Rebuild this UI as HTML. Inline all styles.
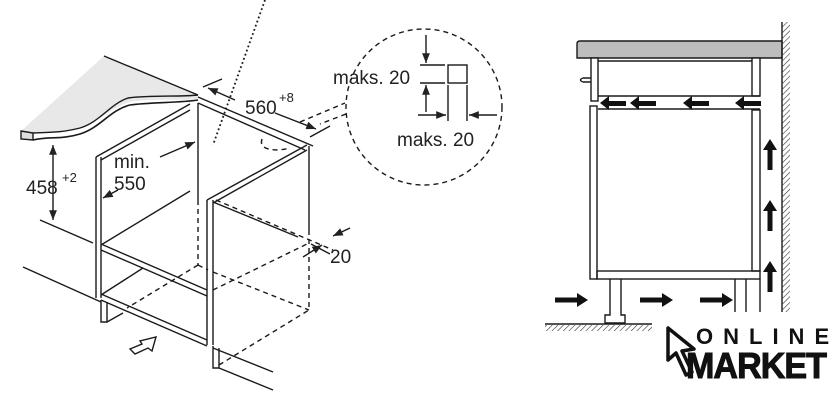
<!DOCTYPE html>
<html><head><meta charset="utf-8"><style>
html,body{margin:0;padding:0;background:#fff;}
svg{display:block;}
text{font-family:"Liberation Sans",sans-serif;fill:#222;}
</style></head><body>
<svg width="840" height="411" viewBox="0 0 840 411" xmlns="http://www.w3.org/2000/svg">
<defs>
<pattern id="hv" width="4" height="4" patternUnits="userSpaceOnUse" patternTransform="rotate(45)">
<line x1="0" y1="0" x2="0" y2="4" stroke="#333" stroke-width="1.2"/></pattern>
<marker id="ar" viewBox="0 0 10 10" refX="10" refY="5" markerWidth="7" markerHeight="7" orient="auto-start-reverse"><path d="M0,1 L10,5 L0,9 z" fill="#222"/></marker>
</defs>
<g stroke="#1a1a1a" fill="none" stroke-width="1.4">
<path d="M104,56 L198,95 L198,99 C185,101 150,98 130,102 C110,108 95,125 70,131 C55,134 45,133 33,133 L21,131 Z" fill="#e8e8e8" stroke="none"/>
<line x1="104" y1="56" x2="198" y2="95"/>
<path d="M21,131 L21,139 L33,140 L33,133 Z" fill="#ddd"/>
<path d="M33,140 C50,136 60,140 80,134 C100,128 110,110 130,105 C150,102 180,103 198,100" stroke-width="1.6"/>
<path d="M33,133 C50,132 60,133 80,128 C100,122 110,104 128,98 C150,95 180,97 198,95"/>
<line x1="96" y1="157" x2="96" y2="298"/><line x1="101" y1="157" x2="101" y2="298"/>
<line x1="96" y1="157" x2="190" y2="104"/><line x1="101" y1="160" x2="190" y2="110"/>
<line x1="198" y1="103" x2="198" y2="200"/>
<line x1="198" y1="200" x2="198" y2="265" stroke-dasharray="5,4"/>
<line x1="198" y1="97" x2="313" y2="146"/><line x1="198" y1="103" x2="305" y2="150"/>
<line x1="307" y1="145" x2="207" y2="200"/><line x1="307" y1="150" x2="213" y2="203"/>
<line x1="309" y1="146" x2="309" y2="230"/>
<line x1="309" y1="230" x2="309" y2="310" stroke-dasharray="5,4"/>
<line x1="207" y1="200" x2="207" y2="345"/><line x1="213" y1="200" x2="213" y2="345"/>
<line x1="101" y1="245" x2="190" y2="191"/>
<line x1="101" y1="244" x2="207" y2="290"/><line x1="101" y1="250" x2="207" y2="296"/>
<line x1="101" y1="294" x2="207" y2="340"/><line x1="101" y1="300" x2="207" y2="346"/>
<line x1="101" y1="295" x2="143" y2="268"/>
<path d="M101,300 L101,322 L107,322 L107,302"/>
<path d="M213,346 L213,368 L219,368 L219,348"/>
<line x1="40" y1="220" x2="93" y2="243"/>
<line x1="23" y1="267" x2="101" y2="302"/>
<line x1="107" y1="322" x2="123" y2="313"/>
<line x1="219" y1="368" x2="273" y2="390"/>
<line x1="213" y1="348" x2="273" y2="372"/>
<line x1="213" y1="202" x2="298" y2="237"/>
<g stroke-dasharray="5,4">
<line x1="198" y1="265" x2="127" y2="308"/>
<line x1="198" y1="265" x2="208" y2="270"/>
<line x1="213" y1="272" x2="309" y2="310"/>
<line x1="213" y1="290" x2="309" y2="243"/>
<line x1="219" y1="365" x2="309" y2="310"/>
<line x1="216" y1="200" x2="333" y2="250"/>
<line x1="300" y1="122" x2="345" y2="103"/>
<path d="M262,139 C258,150 275,152 290,148"/>
</g>
<line x1="265" y1="0" x2="213" y2="145" stroke-dasharray="1.8,2.6" stroke-width="1.8"/>
<line x1="53" y1="145" x2="53" y2="220" marker-start="url(#ar)" marker-end="url(#ar)"/>
<line x1="160" y1="157" x2="195" y2="142" marker-end="url(#ar)"/>
<line x1="118" y1="190" x2="103" y2="198" marker-end="url(#ar)"/>
<line x1="203" y1="87" x2="222" y2="79"/>
<line x1="235" y1="100" x2="208" y2="88" marker-end="url(#ar)"/>
<line x1="275" y1="113" x2="316" y2="129" marker-end="url(#ar)"/>
<line x1="310" y1="137" x2="330" y2="126"/>
<line x1="350" y1="228" x2="333" y2="236" marker-end="url(#ar)"/>
<line x1="303" y1="257" x2="322" y2="245" marker-end="url(#ar)"/>
<line x1="311" y1="244" x2="330" y2="254"/>
<path d="M130,349 L142,344 L140,341 L156,337 L152,351 L148,348 L135,354 Z" fill="#fff"/>
<circle cx="424" cy="107" r="78" stroke-dasharray="5,4"/>
<line x1="346" y1="114" x2="320" y2="124" stroke-dasharray="5,4"/>
<rect x="448" y="65" width="19" height="18"/>
<line x1="420" y1="65" x2="445" y2="65"/><line x1="420" y1="83" x2="445" y2="83"/>
<line x1="426" y1="35" x2="426" y2="63" marker-end="url(#ar)"/>
<line x1="426" y1="112" x2="426" y2="85" marker-end="url(#ar)"/>
<line x1="448" y1="85" x2="448" y2="121"/><line x1="467" y1="85" x2="467" y2="121"/>
<line x1="418" y1="115" x2="446" y2="115" marker-end="url(#ar)"/>
<line x1="497" y1="115" x2="469" y2="115" marker-end="url(#ar)"/>
</g>
<g font-size="19">
<text x="26" y="194">458</text><text x="62" y="182" font-size="13">+2</text>
<text x="114" y="168">min.</text><text x="114" y="190">550</text>
<text x="245" y="114">560</text><text x="279" y="102" font-size="13">+8</text>
<text x="330" y="263">20</text>
<text x="333" y="84">maks. 20</text>
<text x="397" y="146">maks. 20</text>
</g>
<g stroke="#1a1a1a" fill="none" stroke-width="1.4">
<path d="M580,41 L782,41 L782,58 L577,58 L577,44 Q577,41 580,41 Z" fill="#bdbdbd"/>
<line x1="782" y1="22" x2="782" y2="312"/>
<rect x="782" y="22" width="8" height="290" fill="url(#hv)" stroke="none"/>
<rect x="591" y="58" width="7" height="43" fill="#fff"/>
<rect x="752" y="58" width="8" height="38" fill="#fff"/>
<line x1="598" y1="61" x2="752" y2="61"/>
<line x1="598" y1="96" x2="760" y2="96"/>
<line x1="598" y1="109" x2="760" y2="109"/>
<rect x="590" y="106" width="7" height="173" fill="#fff"/>
<rect x="752" y="110" width="8" height="161"/>
<rect x="597" y="271" width="163" height="8"/>
<path d="M583,78 L591,78 M583,82 L591,82 M583,78 Q578,80 583,82"/>
<path d="M610,279 L610,315 L605,315 L605,323 L625,323 L625,315 L621,315 L621,279"/>
<line x1="545" y1="324" x2="652" y2="324"/>
<rect x="545" y="325" width="107" height="6" fill="url(#hv)" stroke="none"/>
<line x1="735" y1="279" x2="735" y2="312"/><line x1="746" y1="279" x2="746" y2="312"/><line x1="760" y1="279" x2="760" y2="312"/>
</g>
<g fill="#111">
<path id="la" d="M600,103 L609,96 L609,101 L626,101 L626,106 L609,106 L609,110 Z"/>
<use href="#la" x="30"/><use href="#la" x="83"/><use href="#la" x="135"/>
<path id="ra" d="M555,297.5 L577,297.5 L577,293 L588,300 L577,307 L577,302.5 L555,302.5 Z"/>
<use href="#ra" x="85"/><use href="#ra" x="145"/>
<path id="ua" d="M767.5,150 L767.5,170 L772.5,170 L772.5,150 L777,150 L770,139 L763,150 Z"/>
<use href="#ua" y="61"/><use href="#ua" y="122"/>
</g>
<path d="M668,328 L668,360 L676,353 L686,375 L692,372 L682,351 L694,349 Z" fill="#fff" stroke="#111" stroke-width="3.5" stroke-linejoin="round"/>
<text x="696" y="344" font-size="22" font-weight="bold" letter-spacing="10" style="fill:#111">ONLINE</text>
<text x="686" y="378" font-size="36" font-weight="bold" letter-spacing="-1" style="fill:#111;stroke:#111;stroke-width:1" textLength="140" lengthAdjust="spacingAndGlyphs">MARKET</text>
</svg>
</body></html>
